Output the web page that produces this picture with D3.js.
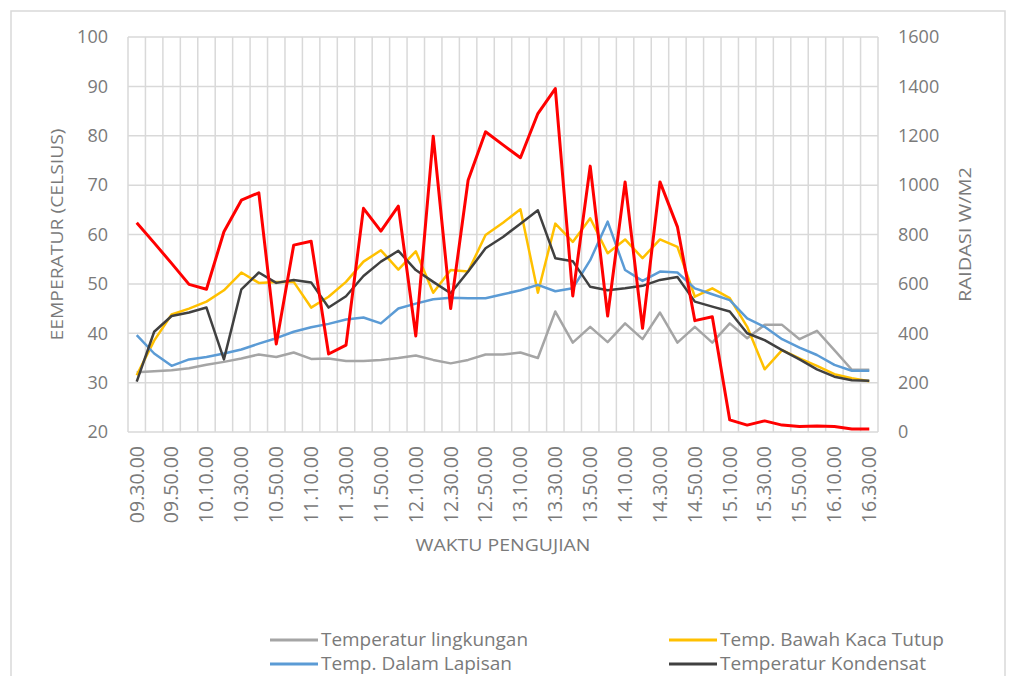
<!DOCTYPE html>
<html>
<head>
<meta charset="utf-8">
<script src="https://cdn.jsdelivr.net/npm/d3@7"></script>
<style>
  body { margin: 0; background: #fff; }
  svg text { font-family: "Open Sans", sans-serif; fill: #7a7a7a; }
</style>
</head>
<body>
<svg id="chart" width="1009" height="676"></svg>
<script>
// waktu pengujian, setiap 10 menit
const categories = [
  "09.30.00","09.40.00","09.50.00","10.00.00","10.10.00","10.20.00","10.30.00","10.40.00",
  "10.50.00","11.00.00","11.10.00","11.20.00","11.30.00","11.40.00","11.50.00","12.00.00",
  "12.10.00","12.20.00","12.30.00","12.40.00","12.50.00","13.00.00","13.10.00","13.20.00",
  "13.30.00","13.40.00","13.50.00","14.00.00","14.10.00","14.20.00","14.30.00","14.40.00",
  "14.50.00","15.00.00","15.10.00","15.20.00","15.30.00","15.40.00","15.50.00","16.00.00",
  "16.10.00","16.20.00","16.30.00"
];

const tempLingkungan = [32.1,32.3,32.5,32.9,33.6,34.2,34.9,35.7,35.2,36.1,34.8,34.9,34.4,34.4,34.6,35.0,35.5,34.6,33.9,34.6,35.7,35.7,36.1,35.0,44.4,38.1,41.3,38.2,42.0,38.8,44.2,38.1,41.3,38.1,42.0,39.0,41.7,41.7,38.8,40.5,36.6,32.6,32.6];
const tempBawahKaca = [31.5,38.5,43.8,45.0,46.4,48.7,52.3,50.2,50.4,50.4,45.2,47.4,50.4,54.5,56.8,52.9,56.6,48.2,52.8,52.5,59.9,62.4,65.1,48.2,62.2,58.5,63.3,56.2,59.0,55.2,59.0,57.5,47.4,49.1,47.1,41.3,32.7,36.6,34.9,33.4,31.7,30.9,30.3];
const tempDalamLapisan = [39.6,35.9,33.4,34.7,35.2,35.9,36.7,37.9,39.0,40.3,41.2,41.9,42.8,43.2,42.0,45.0,46.0,46.9,47.2,47.1,47.1,47.9,48.7,49.8,48.5,49.1,54.8,62.6,52.8,50.6,52.5,52.3,49.1,47.9,46.7,43.0,41.3,38.8,37.1,35.6,33.6,32.4,32.4];
const tempKondensat = [30.2,40.3,43.5,44.2,45.2,34.7,48.9,52.3,50.2,50.8,50.3,45.2,47.5,51.6,54.5,56.7,52.8,50.4,48.1,52.5,57.2,59.5,62.2,64.9,55.2,54.6,49.4,48.7,49.1,49.6,50.8,51.4,46.4,45.4,44.4,40.0,38.6,36.6,34.7,32.7,31.2,30.5,30.4];
const radiasi = [848,766,683,598,578,811,939,969,356,757,773,316,352,906,814,915,389,1198,500,1020,1216,1163,1111,1290,1391,551,1077,470,1013,420,1013,831,451,467,49,28,45,28,22,24,22,12,12];

const leftTicks = [20,30,40,50,60,70,80,90,100];
const rightTicks = [0,200,400,600,800,1000,1200,1400,1600];

const series = [
  { name: "Temperatur lingkungan", values: tempLingkungan, color: "#a5a5a5", axis: "left" },
  { name: "Temp. Bawah Kaca Tutup", values: tempBawahKaca, color: "#ffc000", axis: "left" },
  { name: "Temp. Dalam Lapisan", values: tempDalamLapisan, color: "#5b9bd5", axis: "left" },
  { name: "Temperatur Kondensat", values: tempKondensat, color: "#404040", axis: "left" },
  { name: "Radiasi", values: radiasi, color: "#ff0000", axis: "right" }
];

const svg = d3.select("#chart");
const plot = { left: 128, right: 878, top: 37, bottom: 432 };

// bingkai chart
svg.append("rect")
  .attr("x", 11).attr("y", 11).attr("width", 994).attr("height", 720)
  .attr("fill", "#fff").attr("stroke", "#d9d9d9").attr("stroke-width", 1.5);

const x = d3.scaleBand().domain(categories).range([plot.left, plot.right]).padding(0);
const yLeft = d3.scaleLinear().domain([20, 100]).range([plot.bottom, plot.top]);
const yRight = d3.scaleLinear().domain([0, 1600]).range([plot.bottom, plot.top]);
const cx = d => x(d) + x.bandwidth() / 2;

// grid
const grid = svg.append("g").attr("stroke", "#d9d9d9").attr("stroke-width", 1.5);
grid.selectAll(".h").data(leftTicks).join("line")
  .attr("x1", plot.left).attr("x2", plot.right)
  .attr("y1", d => yLeft(d)).attr("y2", d => yLeft(d));
const bounds = categories.map(c => x(c)).concat([plot.right]);
grid.selectAll(".v").data(bounds).join("line")
  .attr("x1", d => d).attr("x2", d => d)
  .attr("y1", plot.top).attr("y2", plot.bottom);

// sumbu
const axisLeft = svg.append("g")
  .attr("transform", `translate(${plot.left},0)`)
  .call(d3.axisLeft(yLeft).tickValues(leftTicks).tickSize(0).tickPadding(20));
const axisRight = svg.append("g")
  .attr("transform", `translate(${plot.right},0)`)
  .call(d3.axisRight(yRight).tickValues(rightTicks).tickFormat(d3.format("d")).tickSize(0).tickPadding(20));
const axisBottom = svg.append("g")
  .attr("transform", `translate(0,${plot.bottom})`)
  .call(d3.axisBottom(x).tickValues(categories.filter((d, i) => i % 2 === 0)).tickSize(0));

[axisLeft, axisRight, axisBottom].forEach(a => {
  a.select(".domain").remove();
  a.selectAll("text").style("font-size", "18px").attr("fill", "#7a7a7a");
});
axisBottom.selectAll("text")
  .style("font-size", "19.5px")
  .attr("text-anchor", "end")
  .attr("transform", "rotate(-90)")
  .attr("x", -14).attr("y", 0).attr("dy", "0.35em");

// judul sumbu
svg.append("text")
  .attr("transform", `translate(57,${(plot.top + plot.bottom) / 2}) rotate(-90)`)
  .attr("text-anchor", "middle").attr("dy", "0.35em")
  .style("font-size", "17px")
  .attr("textLength", 212).attr("lengthAdjust", "spacingAndGlyphs")
  .text("EEMPERATUR (CELSIUS)");
svg.append("text")
  .attr("transform", `translate(965,${(plot.top + plot.bottom) / 2}) rotate(-90)`)
  .attr("text-anchor", "middle").attr("dy", "0.35em")
  .style("font-size", "17px")
  .attr("textLength", 135).attr("lengthAdjust", "spacingAndGlyphs")
  .text("RAIDASI W/M2");
svg.append("text")
  .attr("x", 503).attr("y", 545).attr("text-anchor", "middle").attr("dy", "0.35em")
  .style("font-size", "17px")
  .attr("textLength", 175).attr("lengthAdjust", "spacingAndGlyphs")
  .text("WAKTU PENGUJIAN");

// garis data
series.forEach(s => {
  const y = s.axis === "left" ? yLeft : yRight;
  const line = d3.line().x((d, i) => cx(categories[i])).y(d => y(d));
  svg.append("path")
    .datum(s.values)
    .attr("fill", "none")
    .attr("stroke", s.color)
    .attr("stroke-width", s.axis === "right" ? 3 : 2.5)
    .attr("stroke-linejoin", "round")
    .attr("d", line);
});

// legenda: hanya empat entri yang terlihat, baris ketiga terpotong di bawah
const legendPos = [
  { x: 270, y: 640, w: 207 },
  { x: 669, y: 640, w: 224 },
  { x: 270, y: 664, w: 191 },
  { x: 669, y: 664, w: 206 }
];
legendPos.forEach((p, i) => {
  const s = series[i];
  const g = svg.append("g").attr("transform", `translate(${p.x},${p.y})`);
  g.append("line").attr("x1", 0).attr("x2", 48).attr("y1", 0).attr("y2", 0)
    .attr("stroke", s.color).attr("stroke-width", 3);
  g.append("text").attr("x", 51).attr("dy", "0.35em")
    .style("font-size", "17.5px")
    .attr("textLength", p.w).attr("lengthAdjust", "spacingAndGlyphs")
    .text(s.name);
});
</script>
</body>
</html>
